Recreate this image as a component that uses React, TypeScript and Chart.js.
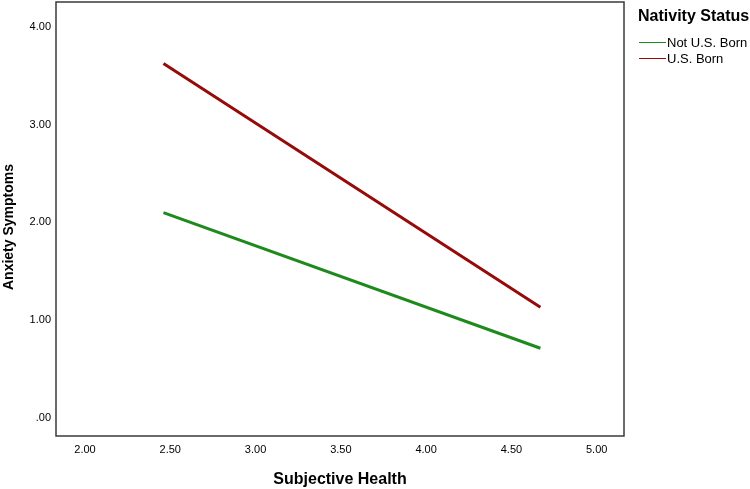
import React, { useEffect, useRef } from "react";
import { Chart, registerables } from "chart.js";

Chart.register(...registerables);

// Data
const xEndpoints = [2.46, 4.67];
const notUSBorn = [2.1, 0.71];
const usBorn = [3.63, 1.13];
const seriesNames = ["Not U.S. Born", "U.S. Born"];
const seriesColors = ["#1e8a1e", "#960a0a"];
const xTicks = [2.0, 2.5, 3.0, 3.5, 4.0, 4.5, 5.0];
const yTicks = [0, 1, 2, 3, 4];
const xTitle = "Subjective Health";
const yTitle = "Anxiety Symptoms";
const legendTitle = "Nativity Status";

const FONT = '"Liberation Sans", Arial, sans-serif';

const fmt = (v: number) => (v === 0 ? ".00" : v.toFixed(2));

export default function App() {
  const ref = useRef<HTMLCanvasElement | null>(null);

  useEffect(() => {
    if (!ref.current) return;
    const seriesValues = [notUSBorn, usBorn];
    const boxPlugin = {
      id: "boxAndLegend",
      afterDraw(chart: any) {
        const { ctx, chartArea } = chart;
        ctx.save();
        ctx.strokeStyle = "#3a3a3a";
        ctx.lineWidth = 1.5;
        ctx.strokeRect(
          chartArea.left,
          chartArea.top,
          chartArea.right - chartArea.left,
          chartArea.bottom - chartArea.top
        );
        // y-axis title
        ctx.save();
        ctx.translate(9, 227);
        ctx.rotate(-Math.PI / 2);
        ctx.fillStyle = "#000";
        ctx.font = `bold 14px ${FONT}`;
        ctx.textAlign = "center";
        ctx.textBaseline = "middle";
        ctx.fillText(yTitle, 0, 0);
        ctx.restore();
        // legend
        const lx = chartArea.right + 15;
        ctx.fillStyle = "#000";
        ctx.font = `bold 16px ${FONT}`;
        ctx.textBaseline = "middle";
        ctx.textAlign = "left";
        ctx.fillText(legendTitle, lx - 1, 17);
        ctx.font = `13px ${FONT}`;
        seriesNames.forEach((name, i) => {
          const y = 42 + i * 16;
          ctx.strokeStyle = seriesColors[i];
          ctx.lineWidth = 1;
          ctx.beginPath();
          ctx.moveTo(lx, y + 0.5);
          ctx.lineTo(lx + 27, y + 0.5);
          ctx.stroke();
          ctx.fillStyle = "#000";
          ctx.fillText(name, lx + 28, y + 1);
        });
        ctx.restore();
      },
    };

    const chart = new Chart(ref.current, {
      type: "scatter",
      data: {
        datasets: seriesNames.map((name, i) => ({
          label: name,
          data: xEndpoints.map((x, j) => ({ x, y: seriesValues[i][j] })),
          showLine: true,
          borderColor: seriesColors[i],
          backgroundColor: seriesColors[i],
          borderWidth: 3,
          pointRadius: 0,
        })),
      },
      options: {
        animation: false,
        responsive: false,
        layout: { padding: { left: 0, top: 2, right: 126, bottom: 0 } },
        plugins: { legend: { display: false }, tooltip: { enabled: false } },
        scales: {
          x: {
            type: "linear",
            min: 1.83,
            max: 5.16,
            afterFit: (s: any) => {
              s.height = 53;
              s.paddingLeft = 0;
              s.paddingRight = 0;
            },
            afterBuildTicks: (s: any) => {
              s.ticks = xTicks.map((v) => ({ value: v }));
            },
            grid: { display: false, drawTicks: false },
            border: { display: false },
            ticks: {
              padding: 7,
              color: "#000",
              font: { family: FONT, size: 11 },
              maxRotation: 0,
              callback: (v: any) => fmt(Number(v)),
            },
            title: {
              display: true,
              text: xTitle,
              color: "#000",
              padding: 0,
              font: { family: FONT, size: 16, weight: "bold" },
            },
          },
          y: {
            type: "linear",
            min: -0.19,
            max: 4.26,
            afterFit: (s: any) => {
              s.width = 56;
              s.paddingTop = 0;
              s.paddingBottom = 0;
            },
            afterBuildTicks: (s: any) => {
              s.ticks = yTicks.map((v) => ({ value: v }));
            },
            grid: { display: false, drawTicks: false },
            border: { display: false },
            ticks: {
              padding: 5,
              color: "#000",
              font: { family: FONT, size: 11 },
              callback: (v: any) => fmt(Number(v)),
            },
            title: { display: false },
          },
        },
      },
      plugins: [boxPlugin],
    } as any);
    return () => chart.destroy();
  }, []);

  return (
    <div style={{ position: "fixed", left: 0, top: 0, width: 750, height: 489, background: "#fff" }}>
      <canvas ref={ref} width={750} height={489} />
    </div>
  );
}
